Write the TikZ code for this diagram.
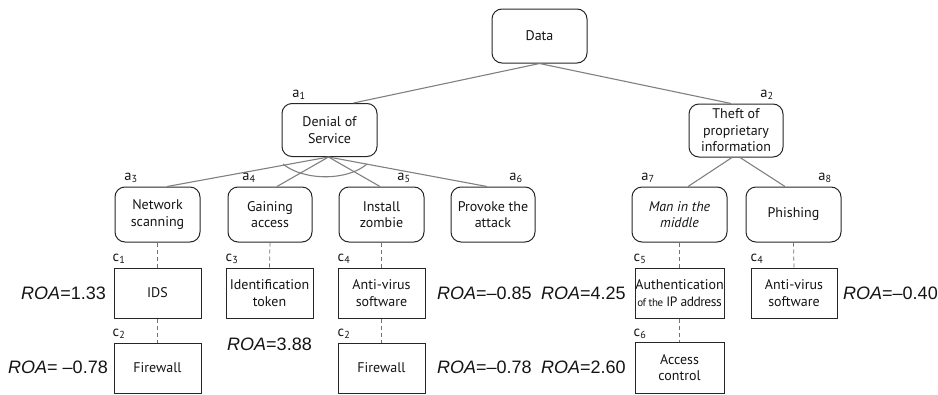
\documentclass[tikz,border=0pt]{standalone}
\usepackage{fontspec}
\setmainfont{PT Sans}
\newfontfamily\roafont{Liberation Sans}
\newfontfamily\tightfont[LetterSpace=-3.5]{PT Sans}
\usetikzlibrary{calc}

\begin{document}
\begin{tikzpicture}[x=1pt,y=-1pt,
  every node/.style={font=\fontsize{14}{16.5}\selectfont, inner sep=0pt, align=center, text=black!92},
  goal/.style={draw=black!85, line width=1pt, rounded corners=10pt, minimum height=54pt},
  ctrl/.style={draw=black!85, line width=1pt, minimum height=50pt},
  link/.style={draw=black!50, line width=1.1pt},
  dep/.style={draw=black!55, dash pattern=on 4pt off 3pt, line width=0.8pt},
  tag/.style={font=\fontsize{14.5}{14.5}\selectfont},
  roa/.style={font=\roafont\fontsize{18}{18}\selectfont},
]
\useasboundingbox (0,0) rectangle (938,394);

% attack goals
\node[goal, minimum width=95pt] (data) at (539.5,36) {Data};
\node[goal, minimum width=95pt, minimum height=53pt] (dos) at (329.5,130) {Denial of\\Service};
\node[goal, minimum width=94pt, minimum height=53pt] (theft) at (736,130.5) {Theft of\\proprietary\\information};

\node[goal, minimum width=85pt, minimum height=55pt] (scan) at (157.5,214.5) {Network\\scanning};
\node[goal, minimum width=84pt, minimum height=55pt] (gain) at (270,214.5) {Gaining\\access};
\node[goal, minimum width=85pt, minimum height=55pt] (zomb) at (381.5,214.5) {Install\\zombie};
\node[goal, minimum width=84pt, minimum height=55pt] (prov) at (493,214.5) {Provoke the\\attack};
\node[goal, minimum width=95pt, minimum height=55pt] (mitm) at (679.5,214.5) {\itshape Man in the\\\itshape middle};
\node[goal, minimum width=95pt, minimum height=55pt] (phish) at (793.5,214.5) {Phishing};

% countermeasures
\node[ctrl, minimum width=87pt] (ids) at (157.5,293) {IDS};
\node[ctrl, minimum width=87pt] (tok) at (269.5,293) {Identification\\token};
\node[ctrl, minimum width=87pt] (av1) at (381.5,293) {Anti-virus\\software};
\node[ctrl, minimum width=87pt] (fw1) at (157.5,368) {Firewall};
\node[ctrl, minimum width=87pt] (fw2) at (381.5,368) {Firewall};
\node[ctrl, minimum width=89pt] (auth) at (679.5,293) {Authentication\\{\tightfont\fontsize{13.5}{13}\selectfont{\fontsize{11}{13}\selectfont of the} IP address}};
\node[ctrl, minimum width=89pt, minimum height=51pt] (acc) at (679.5,367.5) {Access\\control};
\node[ctrl, minimum width=86pt] (av2) at (794,293) {Anti-virus\\software};

% refinement edges
\draw[link] (data.south) -- ($(dos.north)+(24,0)$);
\draw[link] (data.south) -- ($(theft.north)+(-5,0)$);
\draw[link] ($(dos.south)+(-1,0)$) -- ($(scan.north)+(9.5,0)$);
\draw[link] ($(dos.south)+(-1,0)$) -- ($(gain.north)+(7,0)$);
\draw[link] ($(dos.south)+(-1,0)$) -- ($(zomb.north)+(-1.5,0)$);
\draw[link] ($(dos.south)+(-1,0)$) -- ($(prov.north)+(-6,0)$);
\draw[link] ($(theft.south)+(-4,0)$) -- ($(mitm.north)+(8.5,0)$);
\draw[link] ($(theft.south)+(4,0)$) -- ($(phish.north)+(-8.5,0)$);

% conjunction arc over the children of the DoS node
\draw[link] ($(dos.south)+(-46.5,7)$) .. controls ($(dos.south)+(-26,24)$) and ($(dos.south)+(18,24)$) .. ($(dos.south)+(37.5,7)$);

% countermeasure links
\draw[dep] (scan.south) -- (ids.north);
\draw[dep] (ids.south) -- (fw1.north);
\draw[dep] (gain.south) -- (tok.north);
\draw[dep] (zomb.south) -- (av1.north);
\draw[dep] (av1.south) -- (fw2.north);
\draw[dep] (mitm.south) -- (auth.north);
\draw[dep] (auth.south) -- (acc.north);
\draw[dep] (phish.south) -- (av2.north);

% goal labels
\node[tag] (la1) at (299,95) {a\textsubscript{1}};
\node[tag] (la2) at (767,95) {a\textsubscript{2}};
\node[tag] (la3) at (131,178) {a\textsubscript{3}};
\node[tag] (la4) at (249,178) {a\textsubscript{4}};
\node[tag] (la5) at (404,178) {a\textsubscript{5}};
\node[tag] (la6) at (516,178) {a\textsubscript{6}};
\node[tag] (la7) at (648,178) {a\textsubscript{7}};
\node[tag] (la8) at (825,178) {a\textsubscript{8}};

% countermeasure labels
\node[tag] (lc1) at (119,259) {c\textsubscript{1}};
\node[tag] (lc2) at (119,334) {c\textsubscript{2}};
\node[tag] (lc3) at (232,259) {c\textsubscript{3}};
\node[tag] (lc4) at (344,259) {c\textsubscript{4}};
\node[tag] (lc2b) at (344,334) {c\textsubscript{2}};
\node[tag] (lc5) at (640,259) {c\textsubscript{5}};
\node[tag] (lc6) at (640,334) {c\textsubscript{6}};
\node[tag] (lc4b) at (757,259) {c\textsubscript{4}};

% return on attack values
\node[roa, anchor=east] (r1) at (106,293) {\textit{ROA}=1.33};
\node[roa, anchor=east] (r2) at (108,367) {\textit{ROA}= –0.78};
\node[roa] (r3) at (269.5,344) {\textit{ROA}=3.88};
\node[roa, anchor=west] (r4) at (437,293) {\textit{ROA}=–0.85};
\node[roa, anchor=west] (r5) at (437,367) {\textit{ROA}=–0.78};
\node[roa, anchor=west] (r6) at (541,293) {\textit{ROA}=4.25};
\node[roa, anchor=west] (r7) at (541,367) {\textit{ROA}=2.60};
\node[roa, anchor=west] (r8) at (843,293) {\textit{ROA}=–0.40};
\end{tikzpicture}
\end{document}
